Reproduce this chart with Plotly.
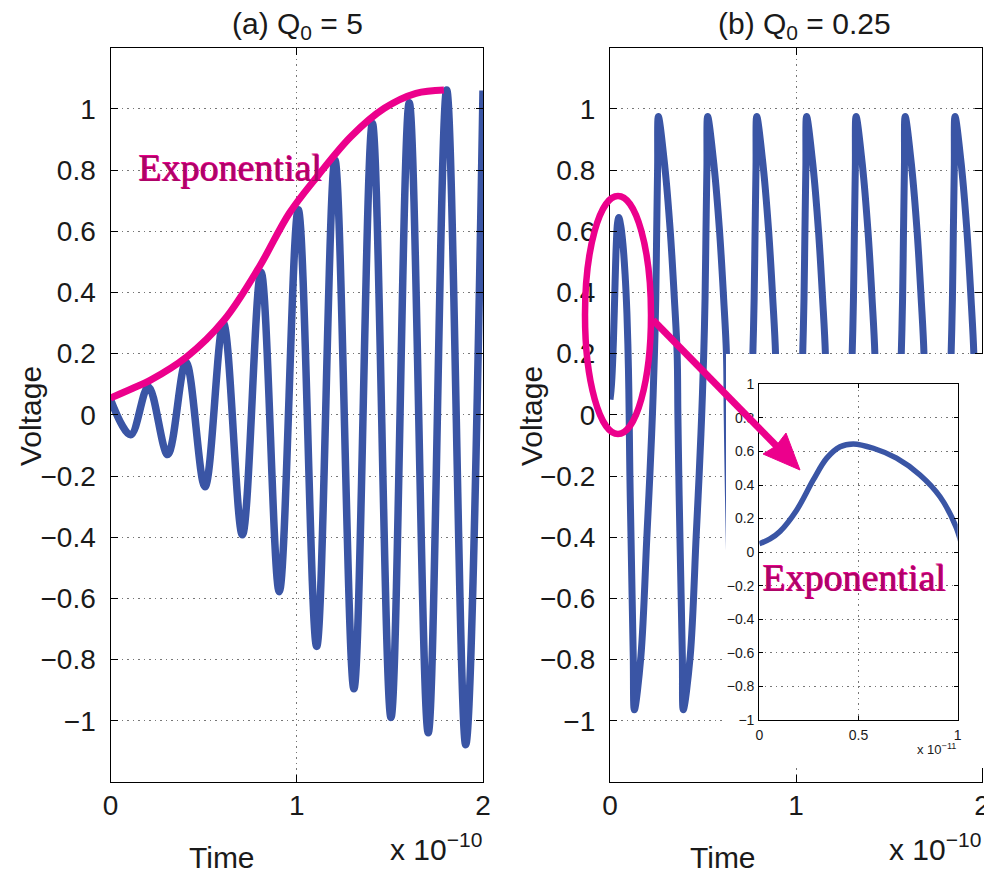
import plotly.graph_objects as go

# page body has an 8px margin; the figure starts at (8, 8) inside the window
OFF = 8
W, H = 992 - OFF, 875 - OFF

# ---------------- data (time in units of 1e-10 s) ----------------
# Panel (a): Q0 = 5, growing oscillation (extrema)
t_a = [0.000, 0.108, 0.203, 0.307, 0.405, 0.507, 0.606, 0.708, 0.808, 0.906, 1.008,
       1.107, 1.205, 1.307, 1.406, 1.506, 1.604, 1.706, 1.805, 1.907, 2.000]
v_a = [0.050, -0.065, 0.092, -0.130, 0.173, -0.235, 0.300, -0.392, 0.467, -0.578, 0.670,
       -0.757, 0.833, -0.895, 0.953, -0.989, 1.020, -1.039, 1.062, -1.078, 1.060]

# Panel (a): exponential envelope (magenta)
t_env = [0.00, 0.12, 0.21, 0.41, 0.61, 0.80, 0.96, 1.11, 1.29, 1.47, 1.64, 1.79]
v_env = [0.055, 0.087, 0.112, 0.190, 0.310, 0.485, 0.659, 0.779, 0.909, 1.002, 1.051, 1.062]

# Panel (b): Q0 = 0.25, relaxation oscillation
t_b = [0.0000, 0.0054, 0.0104, 0.0188, 0.0272, 0.0340, 0.0407, 0.0474, 0.0575, 0.0692, 0.0810, 0.0911, 0.0991,
       0.103, 0.107, 0.113, 0.125, 0.131,
       0.166, 0.198, 0.214, 0.228, 0.239, 0.246, 0.251, 0.256, 0.260, 0.295, 0.324, 0.346, 0.361, 0.365, 0.370, 0.376, 0.389, 0.394,
       0.431, 0.463, 0.479, 0.493, 0.504, 0.511, 0.516, 0.521, 0.525, 0.560, 0.589, 0.611, 0.626, 0.630, 0.635, 0.641, 0.654, 0.659,
       0.695, 0.727, 0.743, 0.757, 0.768, 0.775, 0.780, 0.785, 0.789, 0.824, 0.853, 0.875, 0.890, 0.894, 0.899, 0.905, 0.918, 0.923,
       0.963, 0.995, 1.011, 1.025, 1.036, 1.043, 1.048, 1.053, 1.057, 1.092, 1.121, 1.143, 1.158, 1.162, 1.167, 1.173, 1.186, 1.191,
       1.229, 1.261, 1.277, 1.291, 1.302, 1.309, 1.314, 1.319, 1.323, 1.358, 1.387, 1.409, 1.424, 1.428, 1.433, 1.439, 1.452, 1.457,
       1.493, 1.525, 1.541, 1.555, 1.566, 1.573, 1.578, 1.583, 1.587, 1.622, 1.651, 1.673, 1.688, 1.692, 1.697, 1.703, 1.716, 1.721,
       1.761, 1.793, 1.809, 1.823, 1.834, 1.841, 1.846, 1.851, 1.855, 1.890, 1.919, 1.941, 1.956, 1.960, 1.965, 1.971, 1.984, 1.989,
       2.000]
v_b = [0.050, 0.079, 0.123, 0.250, 0.430, 0.560, 0.628, 0.645, 0.619, 0.560, 0.460, 0.330, 0.152,
       0.00, -0.20, -0.40, -0.79, -0.964,
       -0.79, -0.40, -0.20, 0.00, 0.20, 0.38, 0.60, 0.81, 0.975, 0.81, 0.60, 0.38, 0.20, 0.00, -0.20, -0.40, -0.79, -0.964,
       -0.79, -0.40, -0.20, 0.00, 0.20, 0.38, 0.60, 0.81, 0.975, 0.81, 0.60, 0.38, 0.20, 0.00, -0.20, -0.40, -0.79, -0.964,
       -0.79, -0.40, -0.20, 0.00, 0.20, 0.38, 0.60, 0.81, 0.975, 0.81, 0.60, 0.38, 0.20, 0.00, -0.20, -0.40, -0.79, -0.964,
       -0.79, -0.40, -0.20, 0.00, 0.20, 0.38, 0.60, 0.81, 0.975, 0.81, 0.60, 0.38, 0.20, 0.00, -0.20, -0.40, -0.79, -0.964,
       -0.79, -0.40, -0.20, 0.00, 0.20, 0.38, 0.60, 0.81, 0.975, 0.81, 0.60, 0.38, 0.20, 0.00, -0.20, -0.40, -0.79, -0.964,
       -0.79, -0.40, -0.20, 0.00, 0.20, 0.38, 0.60, 0.81, 0.975, 0.81, 0.60, 0.38, 0.20, 0.00, -0.20, -0.40, -0.79, -0.964,
       -0.79, -0.40, -0.20, 0.00, 0.20, 0.38, 0.60, 0.81, 0.975, 0.81, 0.60, 0.38, 0.20, 0.00, -0.20, -0.40, -0.79, -0.964,
       -0.93]

# ticks
x_ticks = [0, 1, 2]
x_ticktext = ["0", "1", "2"]
y_ticks = [-1.0, -0.8, -0.6, -0.4, -0.2, 0.0, 0.2, 0.4, 0.6, 0.8, 1.0]
y_ticktext = ["\u22121", "\u22120.8", "\u22120.6", "\u22120.4", "\u22120.2", "0",
              "0.2", "0.4", "0.6", "0.8", "1"]
inset_x_ticks = [0, 0.05, 0.1]
inset_x_ticktext = ["0", "0.5", "1"]

BLUE = "#3A55A5"
MAG = "#EC008C"
FONT = "Liberation Sans, Arial, sans-serif"
SERIF = "Liberation Serif, Times New Roman, serif"


def px(x):
    return (x - OFF) / W


def py(y):
    return 1 - (y - OFF) / H


fig = go.Figure()
fig.add_trace(go.Scatter(x=t_a, y=v_a, mode="lines", line=dict(color=BLUE, width=7.5, shape="spline"),
                         xaxis="x", yaxis="y", showlegend=False, hoverinfo="skip"))
fig.add_trace(go.Scatter(x=t_env, y=v_env, mode="lines", line=dict(color=MAG, width=7, shape="spline"),
                         xaxis="x", yaxis="y", showlegend=False, hoverinfo="skip"))
fig.add_trace(go.Scatter(x=t_b, y=v_b, mode="lines", line=dict(color=BLUE, width=7, shape="spline"),
                         xaxis="x2", yaxis="y2", showlegend=False, hoverinfo="skip"))
# white backing panel behind the inset (its own subplot background)
fig.add_trace(go.Scatter(x=[], y=[], mode="lines", xaxis="x3", yaxis="y3",
                         showlegend=False, hoverinfo="skip"))
fig.add_trace(go.Scatter(x=t_b, y=v_b, mode="lines", line=dict(color=BLUE, width=5.5, shape="spline"),
                         xaxis="x4", yaxis="y4", showlegend=False, hoverinfo="skip"))

grid = dict(showgrid=True, gridcolor="#777", griddash="1.5px,4px", gridwidth=1, zeroline=False,
            showline=True, linecolor="black", linewidth=1.2, mirror="ticks", automargin=False,
            ticks="inside", ticklen=7, tickcolor="black", tickwidth=1)

main_font = dict(family=FONT, size=28, color="#1a1a1a")
inset_font = dict(family=FONT, size=14, color="#1a1a1a")

ax_dom_y = [py(782), py(47.7)]
fig.update_layout(
    width=W, height=H, margin=dict(l=0, r=0, t=0, b=0, autoexpand=False),
    paper_bgcolor="white", plot_bgcolor="white",
    xaxis=dict(domain=[px(110.5), px(483)], range=[0, 2], tickvals=x_ticks, ticktext=x_ticktext,
               tickfont=main_font, anchor="y", ticklabelstandoff=-2, **grid),
    yaxis=dict(domain=ax_dom_y, range=[-1.2, 1.2], tickvals=y_ticks, ticktext=y_ticktext,
               tickfont=main_font, anchor="x", ticklabelstandoff=8, **grid),
    xaxis2=dict(domain=[px(610), px(982)], range=[0, 2], tickvals=x_ticks, ticktext=x_ticktext,
                tickfont=main_font, anchor="y2", ticklabelstandoff=-2, **grid),
    yaxis2=dict(domain=ax_dom_y, range=[-1.2, 1.2], tickvals=y_ticks, ticktext=y_ticktext,
                tickfont=main_font, anchor="x2", ticklabelstandoff=8, **grid),
    xaxis3=dict(domain=[px(726), px(984)], range=[0, 1], visible=False, anchor="y3", automargin=False),
    yaxis3=dict(domain=[py(768), py(354)], range=[0, 1], visible=False, anchor="x3", automargin=False),
    xaxis4=dict(domain=[px(759.3), px(957.7)], range=[0, 0.1], tickvals=inset_x_ticks,
                ticktext=inset_x_ticktext, tickfont=inset_font, anchor="y4", ticklabelstandoff=2,
                **dict(grid, ticklen=4)),
    yaxis4=dict(domain=[py(720), py(384.3)], range=[-1, 1], tickvals=y_ticks, ticktext=y_ticktext,
                tickfont=inset_font, anchor="x4", ticklabelstandoff=1, **dict(grid, ticklen=4)),
)

ann = []


def text(x, y, s, size, xanchor="center", yanchor="middle", angle=0, family=FONT, color="#1a1a1a",
         xshift=0, yshift=0):
    ann.append(dict(x=px(x), y=py(y), xref="paper", yref="paper", text=s, showarrow=False,
                    xanchor=xanchor, yanchor=yanchor, textangle=angle, xshift=xshift, yshift=yshift,
                    font=dict(family=family, size=size, color=color)))


text(297.5, 26, "(a) Q<sub>0</sub> = 5", 30)
text(804, 26, "(b) Q<sub>0</sub> = 0.25", 30)
text(222, 857, "Time", 30)
text(723, 857, "Time", 30)
text(30, 416, "Voltage", 30, angle=-90)
text(531, 416, "Voltage", 30, angle=-90)
text(484, 847, "x 10<sup>\u221210</sup>", 30, xanchor="right")
text(983, 847, "x 10<sup>\u221210</sup>", 30, xanchor="right")
text(958, 749, "x 10<sup>\u221211</sup>", 13, xanchor="right")

# "Exponential" labels: magenta with a dark core
for (ex, ey) in [(136, 168), (760, 578)]:
    text(ex, ey, "Exponential", 38, xanchor="left", family=SERIF, color=MAG, xshift=1)
    text(ex, ey, "Exponential", 38, xanchor="left", family=SERIF, color=MAG, yshift=1)
    text(ex, ey, "Exponential", 38, xanchor="left", family=SERIF, color="rgba(90,10,55,0.45)")

fig.update_layout(annotations=ann)

# ellipse and arrow
shapes = [
    dict(type="circle", xref="paper", yref="paper", x0=px(585), x1=px(651), y0=py(434), y1=py(196),
         line=dict(color=MAG, width=6.5), layer="above"),
    dict(type="line", xref="paper", yref="paper", x0=px(653), y0=py(320), x1=px(777), y1=py(446.5),
         line=dict(color=MAG, width=7), layer="above"),
    dict(type="path", xref="paper", yref="paper",
         path=f"M {px(800)} {py(470)} L {px(763)} {py(454)} L {px(776)} {py(446)} L {px(786)} {py(433)} Z",
         fillcolor=MAG, line=dict(color=MAG, width=1), layer="above"),
]
fig.update_layout(shapes=shapes)

fig.write_html("out.html")
